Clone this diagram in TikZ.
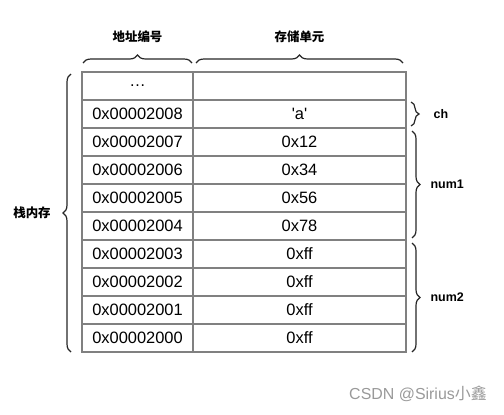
\documentclass[tikz,border=0pt]{standalone}
\usepackage{fontspec}
\newfontfamily\arial{Liberation Sans}
\newfontfamily\cjk{Noto Sans CJK SC}
\usetikzlibrary{positioning,decorations.pathreplacing}

\begin{document}
\begin{tikzpicture}[x=1bp,y=1bp,node distance=0pt,
	cell/.style={draw=gray,line width=1.2bp,minimum height=28bp,inner sep=0pt,outer sep=0pt,font=\arial\fontsize{16.5}{18}\selectfont},
	addr/.style={cell,minimum width=111bp},
	val/.style={cell,minimum width=213bp},
	brace/.style={decorate,decoration={brace,amplitude=8bp},line width=1.2bp,draw=black!85},
	tag/.style={inner sep=0pt,font=\arial\fontsize{12.5}{14}\selectfont\bfseries},
	cjktag/.style={inner sep=0pt,font=\cjk\fontsize{12.5}{14}\selectfont\bfseries}]
			\useasboundingbox (0,0) rectangle (504,414);
			% address column
			\node[addr] (addr_x) at (137.5,328) {\ldots};
			\node[addr] [below=of addr_x] (addr_8) {0x00002008};
			\node[addr] [below=of addr_8] (addr_7) {0x00002007};
			\node[addr] [below=of addr_7] (addr_6) {0x00002006};
			\node[addr] [below=of addr_6] (addr_5) {0x00002005};
			\node[addr] [below=of addr_5] (addr_4) {0x00002004};
			\node[addr] [below=of addr_4] (addr_3) {0x00002003};
			\node[addr] [below=of addr_3] (addr_2) {0x00002002};
			\node[addr] [below=of addr_2] (addr_1) {0x00002001};
			\node[addr] [below=of addr_1] (addr_0) {0x00002000};
			% value column
			\node[val] [right=of addr_x] (val_x) {};
			\node[val] [right=of addr_8] (val_8) {'a'};
			\node[val] [right=of addr_7] (val_7) {0x12};
			\node[val] [right=of addr_6] (val_6) {0x34};
			\node[val] [right=of addr_5] (val_5) {0x56};
			\node[val] [right=of addr_4] (val_4) {0x78};
			\node[val] [right=of addr_3] (val_3) {0xff};
			\node[val] [right=of addr_2] (val_2) {0xff};
			\node[val] [right=of addr_1] (val_1) {0xff};
			\node[val] [right=of addr_0] (val_0) {0xff};
			% braces
			\draw[brace] ([shift={(1,9)}]addr_x.north west) -- ([shift={(-1,9)}]addr_x.north east)
				node[cjktag,midway,yshift=26bp] (col_addr) {地址编号};
			\draw[brace] ([shift={(3,9)}]val_x.north west) -- ([shift={(-3,9)}]val_x.north east)
				node[cjktag,midway,yshift=26bp] (col_val) {存储单元};
			\draw[brace] ([shift={(-11,0)}]addr_0.south west) -- ([shift={(-11,-2)}]addr_x.north west)
				node[cjktag,midway,xshift=-39bp] (stack) {栈内存};
			\draw[brace] ([shift={(5,-2)}]val_8.north east) -- ([shift={(5,2)}]val_8.south east)
				node[tag,midway,right=22bp] (ch) {ch};
			\draw[brace] ([shift={(6,-3)}]val_7.north east) -- ([shift={(6,2)}]val_4.south east)
				node[tag,midway,right=18bp] (num1) {num1};
			\draw[brace] ([shift={(6,-3)}]val_3.north east) -- ([shift={(6,0)}]val_0.south east)
				node[tag,midway,right=18bp] (num2) {num2};
			% watermark
			\node[text=black!40,font=\arial\fontsize{16}{18}\selectfont] (mark) at (418,20) {CSDN @Sirius{\cjk 小鑫}};
		\end{tikzpicture}
\end{document}
